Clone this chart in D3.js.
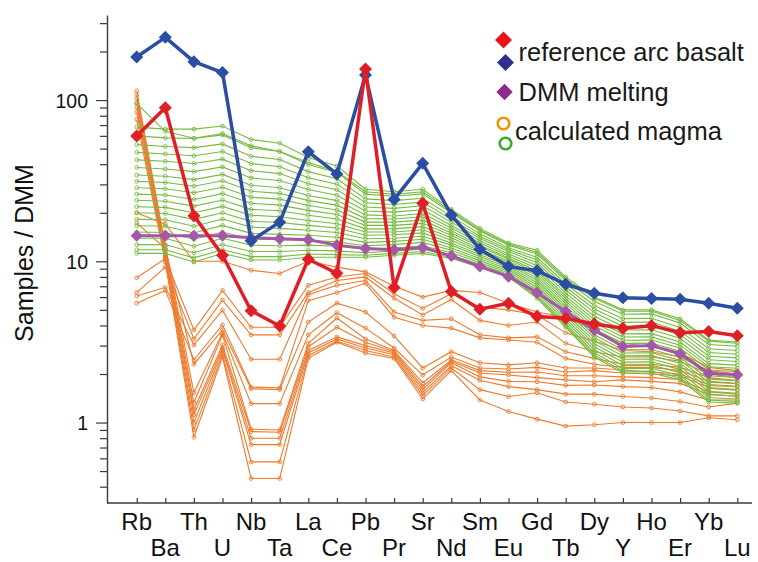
<!DOCTYPE html>
<html>
<head>
<meta charset="utf-8">
<script src="https://cdn.jsdelivr.net/npm/d3@7"></script>
<style>
  body { margin: 0; background: #fff; }
  svg { display: block; font-family: "Liberation Sans", Arial, Helvetica, sans-serif; }
</style>
</head>
<body>
<svg id="chart"></svg>
<script>
// element order on the x axis
var elements = ["Rb","Ba","Th","U","Nb","Ta","La","Ce","Pb","Pr","Sr","Nd","Sm","Eu","Gd","Tb","Dy","Y","Ho","Er","Yb","Lu"];

// reference arc basalts (two of them)
var arcBasaltRed  = [59.8, 89.6, 19.2, 10.9, 4.94, 3.97, 10.3, 8.43, 156, 6.87, 22.9, 6.49, 5.05, 5.5, 4.54, 4.44, 4.09, 3.85, 3.99, 3.61, 3.67, 3.45];
var arcBasaltBlue = [185, 245, 173, 148, 13.4, 17.5, 47.8, 34.8, 143, 24.2, 40.5, 19.4, 11.9, 9.27, 8.75, 7.21, 6.34, 5.95, 5.87, 5.82, 5.5, 5.12];

// DMM melting
var dmmMelting = [14.4, 14.4, 14.4, 14.4, 14.0, 13.8, 13.6, 12.6, 12.0, 11.8, 12.2, 10.8, 9.27, 8.03, 6.39, 4.88, 3.75, 2.96, 3.0, 2.67, 2.02, 1.98];

// calculated magma, green set
var magmaGreen = [
  [95, 64, 58, 62, 52, 48, 41, 36, 27, 26, 27, 20.5, 15.6, 12.8, 11.4, 7.8, 5.9, 4.9, 4.9, 4.3, 3.2, 3.1],
  [68, 66, 66, 69, 57, 54, 44, 39, 28, 27, 28, 21, 16, 13, 11.7, 8.0, 6.0, 5.0, 5.0, 4.4, 3.25, 3.16],
  [60, 58.3, 57.8, 60.8, 50.6, 48.0, 39.8, 35.6, 26.1, 25.3, 26.2, 20.0, 15.4, 12.6, 11.1, 7.6, 5.65, 4.7, 4.72, 4.14, 3.05, 2.97],
  [52.9, 51.5, 50.7, 53.5, 44.8, 42.8, 36.0, 32.5, 24.4, 23.8, 24.6, 19.0, 14.8, 12.1, 10.6, 7.23, 5.32, 4.41, 4.43, 3.89, 2.87, 2.80],
  [47.4, 46.3, 45.2, 48.0, 40.4, 38.6, 33.0, 30.1, 23.1, 22.5, 23.3, 18.2, 14.3, 11.8, 10.2, 6.93, 5.06, 4.18, 4.2, 3.69, 2.72, 2.65],
  [42.6, 41.7, 40.4, 43.0, 36.5, 35.0, 30.3, 27.8, 21.7, 21.3, 22.1, 17.5, 13.9, 11.5, 9.79, 6.64, 4.81, 3.95, 3.97, 3.51, 2.58, 2.52],
  [38.2, 37.4, 36.0, 38.5, 32.9, 31.7, 27.9, 25.7, 20.5, 20.2, 20.9, 16.7, 13.4, 11.1, 9.40, 6.35, 4.56, 3.75, 3.76, 3.33, 2.45, 2.39],
  [34.3, 33.7, 32.1, 34.6, 29.6, 28.6, 25.6, 23.8, 19.4, 19.1, 19.8, 16.1, 13.0, 10.8, 9.02, 6.08, 4.34, 3.55, 3.56, 3.16, 2.32, 2.27],
  [31.3, 30.8, 29.2, 31.6, 27.2, 26.4, 23.8, 22.3, 18.4, 18.3, 18.9, 15.5, 12.6, 10.5, 8.71, 5.87, 4.15, 3.39, 3.40, 3.02, 2.22, 2.17],
  [28.6, 28.2, 26.6, 28.8, 25.0, 24.3, 22.2, 20.8, 17.5, 17.5, 18.0, 15.0, 12.3, 10.3, 8.41, 5.66, 3.98, 3.24, 3.25, 2.90, 2.12, 2.07],
  [26.1, 25.8, 24.2, 26.3, 22.9, 22.3, 20.7, 19.5, 16.7, 16.7, 17.2, 14.5, 11.9, 10.0, 8.15, 5.47, 3.81, 3.10, 3.11, 2.77, 2.03, 1.98],
  [23.9, 23.6, 22.0, 24.0, 21.0, 20.6, 19.3, 18.3, 15.9, 15.9, 16.4, 14.0, 11.6, 9.8, 7.87, 5.27, 3.66, 2.96, 2.97, 2.65, 1.95, 1.90],
  [21.8, 21.6, 20.0, 21.9, 19.3, 18.9, 17.9, 17.1, 15.2, 15.2, 15.7, 13.5, 11.3, 9.6, 7.60, 5.08, 3.50, 2.83, 2.84, 2.54, 1.86, 1.82],
  [20.0, 19.8, 18.2, 20.0, 17.7, 17.4, 16.7, 16.1, 14.5, 14.6, 15.0, 13.0, 11.0, 9.35, 7.35, 4.91, 3.36, 2.70, 2.71, 2.43, 1.78, 1.74],
  [18.2, 18.1, 16.5, 18.3, 16.3, 16.0, 15.6, 15.1, 13.8, 13.9, 14.3, 12.6, 10.7, 9.12, 7.10, 4.73, 3.21, 2.59, 2.60, 2.33, 1.70, 1.66],
  [16.6, 16.5, 15.0, 16.7, 14.9, 14.7, 14.5, 14.1, 13.1, 13.3, 13.7, 12.1, 10.4, 8.9, 6.85, 4.57, 3.08, 2.47, 2.48, 2.23, 1.63, 1.59],
  [15.2, 15.1, 13.7, 15.2, 13.7, 13.6, 13.5, 13.2, 12.5, 12.7, 13.1, 11.7, 10.1, 8.69, 6.62, 4.41, 2.95, 2.37, 2.38, 2.13, 1.56, 1.52],
  [13.9, 13.9, 12.4, 13.9, 12.6, 12.5, 12.6, 12.4, 11.9, 12.1, 12.5, 11.3, 9.84, 8.47, 6.41, 4.25, 2.83, 2.26, 2.27, 2.04, 1.49, 1.46],
  [12.7, 12.7, 11.3, 12.7, 11.5, 11.5, 11.7, 11.6, 11.3, 11.6, 11.9, 10.9, 9.57, 8.28, 6.19, 4.10, 2.71, 2.16, 2.17, 1.95, 1.43, 1.40],
  [11.8, 11.8, 10.5, 11.8, 10.7, 10.7, 11.1, 11.0, 10.9, 11.2, 11.5, 10.6, 9.35, 8.11, 6.03, 3.98, 2.62, 2.08, 2.09, 1.89, 1.38, 1.35],
  [11.2, 11.2, 9.9, 11.2, 10.2, 10.2, 10.6, 10.6, 10.6, 10.9, 11.2, 10.4, 9.2, 8.0, 5.9, 3.9, 2.55, 2.03, 2.03, 1.84, 1.34, 1.32]
];

// calculated magma, orange set
var magmaOrange = [
  [20, 17, 10, 10, 8.8, 8.4, 10, 9.2, 8.6, 7.0, 6.0, 6.6, 6.4, 5.5, 4.85, 4.5, 3.75, 3.1, 2.95, 2.7, 2.2, 2.1],
  [7.9, 10.4, 3.75, 6.6, 3.9, 3.9, 7.1, 8.0, 8.4, 6.3, 5.1, 6.3, 5.2, 5.0, 4.65, 3.6, 3.2, 2.8, 2.75, 2.55, 2.1, 2.0],
  [6.4, 9.2, 3.3, 5.75, 3.5, 3.5, 6.4, 7.6, 8.0, 5.9, 4.65, 5.8, 4.3, 4.0, 4.2, 3.1, 2.75, 2.55, 2.55, 2.4, 2.0, 1.9],
  [6.1, 6.9, 3.03, 4.98, 2.47, 2.47, 6.2, 7.1, 7.6, 4.85, 4.3, 4.4, 3.5, 3.35, 3.4, 2.75, 2.5, 2.3, 2.3, 2.2, 1.9, 1.82],
  [5.5, 6.6, 2.45, 4.03, 1.66, 1.64, 5.7, 6.4, 7.3, 4.5, 4.0, 3.85, 3.35, 3.25, 3.15, 2.5, 2.3, 2.2, 2.2, 2.1, 1.8, 1.75],
  [17.3, 12, 2.3, 3.75, 1.62, 1.6, 4.2, 5.5, 4.85, 3.45, 2.18, 2.75, 2.35, 2.28, 2.35, 2.18, 2.18, 2.12, 2.06, 2.0, 1.72, 1.68],
  [114, 12.5, 1.53, 3.6, 1.31, 1.31, 3.5, 4.8, 3.85, 2.9, 1.97, 2.55, 2.18, 2.15, 2.2, 2.06, 2.1, 2.03, 2.0, 1.95, 1.65, 1.6],
  [108, 12, 1.33, 3.5, 0.91, 0.9, 3.1, 4.45, 3.3, 2.8, 1.76, 2.45, 2.1, 2.05, 2.06, 1.95, 1.95, 1.92, 1.9, 1.85, 1.55, 1.5],
  [102, 11.5, 1.2, 3.03, 0.88, 0.87, 2.95, 3.9, 3.15, 2.75, 1.67, 2.4, 2.03, 1.97, 1.9, 1.84, 1.79, 1.84, 1.8, 1.75, 1.5, 1.45],
  [96, 11, 1.12, 2.9, 0.8, 0.8, 2.8, 3.4, 3.0, 2.7, 1.6, 2.35, 1.92, 1.8, 1.79, 1.7, 1.71, 1.67, 1.65, 1.55, 1.38, 1.38],
  [90, 10.6, 1.0, 2.8, 0.73, 0.73, 2.7, 3.3, 2.9, 2.63, 1.53, 2.25, 1.83, 1.67, 1.6, 1.5, 1.5, 1.45, 1.42, 1.35, 1.25, 1.32],
  [84, 10.2, 0.9, 2.65, 0.57, 0.57, 2.6, 3.2, 2.8, 2.55, 1.47, 2.18, 1.6, 1.45, 1.53, 1.34, 1.30, 1.25, 1.23, 1.18, 1.1, 1.1],
  [76, 9.9, 0.81, 2.55, 0.45, 0.45, 2.5, 3.15, 2.7, 2.5, 1.4, 2.1, 1.38, 1.17, 1.05, 0.95, 0.97, 1.0, 1.0, 1.0, 1.07, 1.04]
];

var yMajorTicks = [1, 10, 100];
var yMinorTicks = [0.4, 0.5, 0.6, 0.7, 0.8, 0.9, 2, 3, 4, 5, 6, 7, 8, 9, 20, 30, 40, 50, 60, 70, 80, 90, 200, 300];

var legendItems = [
  { label: "reference arc basalt", y: 61 },
  { label: "DMM melting", y: 101 },
  { label: "calculated magma", y: 140 }
];

var settings = { width: 758, height: 562 };

var svg = d3.select("#chart")
    .attr("width", settings.width)
    .attr("height", settings.height);

var x = d3.scalePoint()
    .domain(elements)
    .range([136.7, 737.3]);

var y = d3.scaleLog()
    .domain([0.317, 337])
    .range([503, 15]);

var line = d3.line()
    .x((d, i) => x(elements[i]))
    .y(d => y(d));

var axisColor = "#3a3a3a";

/* minor and major ticks on the log axis */
svg.append("g")
    .attr("transform", "translate(107,0)")
    .call(d3.axisLeft(y).tickValues(yMinorTicks).tickSize(7).tickFormat("").tickSizeOuter(0))
    .call(g => g.select(".domain").remove())
    .call(g => g.selectAll(".tick line").attr("stroke", axisColor).attr("stroke-width", 1.2));

svg.append("g")
    .attr("transform", "translate(107,0)")
    .call(d3.axisLeft(y).tickValues(yMajorTicks).tickSize(11).tickSizeOuter(0).tickFormat(d3.format("d")))
    .call(g => g.select(".domain").attr("stroke", axisColor).attr("stroke-width", 1.4))
    .call(g => g.selectAll(".tick line").attr("stroke", axisColor).attr("stroke-width", 1.2))
    .call(g => g.selectAll(".tick text")
        .attr("x", -19)
        .attr("dy", "0.36em")
        .attr("fill", "#111")
        .style("font-size", "19.5px")
        .style("font-family", "Liberation Sans, Arial, sans-serif"));

// bottom axis: ticks point inwards, line runs past the last element
svg.append("g")
    .attr("transform", "translate(0,503)")
    .call(d3.axisBottom(x).tickSize(-5).tickFormat(""))
    .call(g => g.select(".domain").remove())
    .call(g => g.selectAll(".tick line").attr("stroke", axisColor).attr("stroke-width", 1.2));

svg.append("line")
    .attr("x1", 107).attr("x2", 752)
    .attr("y1", 503).attr("y2", 503)
    .attr("stroke", axisColor)
    .attr("stroke-width", 1.4);

svg.append("g")
    .selectAll("text")
    .data(elements)
    .join("text")
    .attr("x", d => x(d))
    .attr("y", (d, i) => i % 2 == 0 ? 530 : 556)
    .attr("text-anchor", "middle")
    .attr("fill", "#111")
    .style("font-size", "24px")
    .text(d => d);

svg.append("text")
    .attr("transform", "translate(33,253) rotate(-90)")
    .attr("text-anchor", "middle")
    .attr("fill", "#111")
    .style("font-size", "25px")
    .text("Samples / DMM");

/* thin model lines with small open circles */
function thinSeries(data, color, cls) {
    var g = svg.append("g").attr("class", cls);
    g.selectAll("path")
        .data(data)
        .join("path")
        .attr("fill", "none")
        .attr("stroke", color)
        .attr("stroke-width", 1.1)
        .attr("d", line);
    data.forEach(function(row) {
        g.append("g").selectAll("circle")
            .data(row)
            .join("circle")
            .attr("cx", (d, i) => x(elements[i]))
            .attr("cy", d => y(d))
            .attr("r", 1.9)
            .attr("fill", "none")
            .attr("stroke", color)
            .attr("stroke-width", 0.9);
    });
}

thinSeries(magmaOrange, "#ec7b2e", "orange");
thinSeries(magmaGreen, "#76bb40", "green");

function diamond(size) {
    return "M0," + (-size) + "L" + size + ",0L0," + size + "L" + (-size) + ",0Z";
}

function thickSeries(data, color, width, size) {
    var g = svg.append("g");
    g.append("path")
        .datum(data)
        .attr("fill", "none")
        .attr("stroke", color)
        .attr("stroke-width", width)
        .attr("stroke-linejoin", "round")
        .attr("d", line);
    g.selectAll(".pt")
        .data(data)
        .join("path")
        .attr("class", "pt")
        .attr("transform", (d, i) => "translate(" + x(elements[i]) + "," + y(d) + ")")
        .attr("fill", color)
        .attr("d", diamond(size));
}

thickSeries(dmmMelting, "#a556a9", 3, 6);
thickSeries(arcBasaltBlue, "#2b4ea3", 3.5, 6.5);
thickSeries(arcBasaltRed, "#e01e26", 3.5, 6.5);

// legend
var legend = svg.append("g");
legend.append("path").attr("transform", "translate(503.5,40)").attr("fill", "#e8131b").attr("d", diamond(8.5));
legend.append("path").attr("transform", "translate(505.5,62.5)").attr("fill", "#2e3190").attr("d", diamond(8.5));
legend.append("path").attr("transform", "translate(504.5,92)").attr("fill", "#8f2b8f").attr("d", diamond(8.2));
legend.append("circle").attr("cx", 503.5).attr("cy", 123.5).attr("r", 5.8)
    .attr("fill", "none").attr("stroke", "#f39200").attr("stroke-width", 2.6);
legend.append("circle").attr("cx", 505.5).attr("cy", 143.5).attr("r", 5.8)
    .attr("fill", "none").attr("stroke", "#39a935").attr("stroke-width", 2.6);

legend.selectAll("text")
    .data(legendItems)
    .join("text")
    .attr("x", (d, i) => i == 2 ? 515 : 518.5)
    .attr("y", d => d.y)
    .attr("fill", "#1a1a1a")
    .style("font-size", "25.5px")
    .text(d => d.label);
</script>
</body>
</html>
